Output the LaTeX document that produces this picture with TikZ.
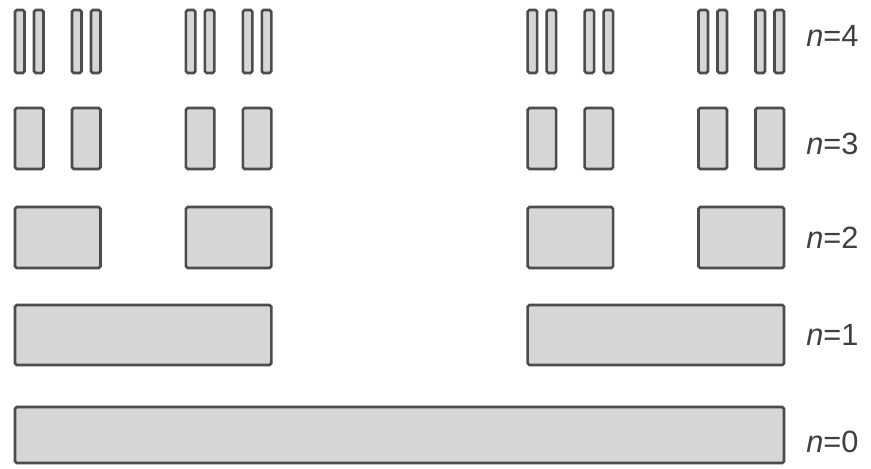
\documentclass[tikz,border=0pt]{standalone}
\usepackage{fontspec}
\setsansfont{Liberation Sans}
\usepackage{tikz}

\begin{document}
\begin{tikzpicture}[
  x=0.02cm, y=-0.02cm,
  bar/.style={draw=black!70, fill=black!16, line width=1.5pt, rounded corners=1pt},
  lvl/.style={anchor=west, inner sep=0pt, text=black!75, font=\sffamily\fontsize{17.5}{20}\selectfont},
]
\useasboundingbox (0,0) rectangle (871,468);
\def\u{9.4938} % width of one bar at n=4

% ── n=0 ──
\draw[bar] (15,407) rectangle ({15+81*\u},463);

% ── n=1 ──
\foreach \s in {0,54}{
  \draw[bar] ({15+\s*\u},305) rectangle ({15+(\s+27)*\u},365);
}

% ── n=2 ──
\foreach \s in {0,18,54,72}{
  \draw[bar] ({15+\s*\u},207) rectangle ({15+(\s+9)*\u},268);
}

% ── n=3 ──
\foreach \s in {0,6,18,24,54,60,72,78}{
  \draw[bar] ({15+\s*\u},108) rectangle ({15+(\s+3)*\u},169);
}

% ── n=4 ──
\foreach \s in {0,2,6,8,18,20,24,26,54,56,60,62,72,74,78,80}{
  \draw[bar] ({15+\s*\u},10) rectangle ({15+(\s+1)*\u},73);
}

\node[lvl] (l4) at (806,36)  {\textit{n}=4};
\node[lvl] (l3) at (806,144) {\textit{n}=3};
\node[lvl] (l2) at (806,238) {\textit{n}=2};
\node[lvl] (l1) at (806,335) {\textit{n}=1};
\node[lvl] (l0) at (806,442) {\textit{n}=0};

\end{tikzpicture}
\end{document}
